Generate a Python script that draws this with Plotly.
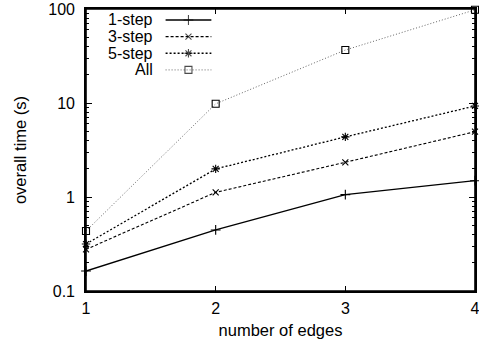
import plotly.graph_objects as go

edges = [1, 2, 3, 4]
series_names = ["1-step", "3-step", "5-step", "All"]
one_step = [0.163, 0.446, 1.06, 1.49]
three_step = [0.277, 1.12, 2.34, 4.95]
five_step = [0.316, 1.99, 4.36, 9.3]
all_steps = [0.435, 9.8, 36.6, 98.0]
series_values = [one_step, three_step, five_step, all_steps]

dashes = ["solid", "3px,2px", "2px,2px", "1px,2px"]
line_colors = ["black", "black", "black", "#666666"]
line_widths = [1.3, 1.1, 1.3, 1.0]
symbols = ["cross-thin-open", "x-thin-open", "asterisk-open", "square-open"]
marker_sizes = [7, 6, 7, 7]

FONT = "Liberation Sans, Arial, Helvetica, sans-serif"
X_RANGE = [1, 4]
Y_LOG_RANGE = [-1, 2]


def paper_to_x(p):
    return X_RANGE[0] + (X_RANGE[1] - X_RANGE[0]) * p


def paper_to_y(p):
    return 10 ** (Y_LOG_RANGE[0] + (Y_LOG_RANGE[1] - Y_LOG_RANGE[0]) * p)


fig = go.Figure()
for name, vals, d, c, w, s, ms in zip(series_names, series_values, dashes,
                                       line_colors, line_widths, symbols, marker_sizes):
    fig.add_trace(go.Scatter(
        x=edges, y=vals, name=name, mode="lines+markers",
        line=dict(color=c, width=w, dash=d),
        marker=dict(symbol=s, size=ms, color="black",
                    line=dict(color="black", width=1.1)),
        showlegend=False, cliponaxis=False,
    ))

# gnuplot-style legend: right-aligned labels with sample to the right
leg_rows = [0.961, 0.902, 0.843, 0.784]
leg_sample_x = [0.2046, 0.2634, 0.3223]
for name, yy, d, c, w, s, ms in zip(series_names, leg_rows, dashes,
                                     line_colors, line_widths, symbols, marker_sizes):
    fig.add_trace(go.Scatter(
        x=[paper_to_x(p) for p in leg_sample_x], y=[paper_to_y(yy)] * 3,
        mode="lines+markers",
        line=dict(color=c, width=w, dash=d),
        marker=dict(symbol=s, size=[0, ms, 0], color="black",
                    line=dict(color="black", width=1.1)),
        showlegend=False, hoverinfo="skip",
    ))
    fig.add_annotation(x=0.1765, y=yy, xref="paper", yref="paper", text=name,
                       showarrow=False, xanchor="right", yanchor="middle",
                       font=dict(size=16, color="black", family=FONT))

# plot frame
fig.add_shape(type="rect", xref="paper", yref="paper", x0=0, y0=0, x1=1, y1=1,
              line=dict(color="black", width=1.6), layer="above")

fig.update_layout(
    width=479, height=346,
    margin=dict(l=86, r=4, t=9, b=55, autoexpand=False),
    paper_bgcolor="white", plot_bgcolor="white",
    font=dict(family=FONT, size=16, color="black"),
    xaxis=dict(
        range=X_RANGE, tickvals=edges, ticktext=[str(e) for e in edges],
        ticks="inside", ticklen=5, tickwidth=1, tickcolor="black",
        showline=True, linecolor="black", linewidth=1.6, mirror="allticks",
        showgrid=False, zeroline=False, automargin=False,
        ticklabelstandoff=2, ticklabeloverflow="allow",
        title=dict(text="number of edges", standoff=8, font=dict(size=16.5)),
    ),
    yaxis=dict(
        type="log", range=Y_LOG_RANGE,
        tickvals=[0.1, 1, 10, 100], ticktext=["0.1", "1", "10", "100"],
        ticks="inside", ticklen=6, tickwidth=1, tickcolor="black",
        minor=dict(ticks="inside", ticklen=3, tickcolor="black", dtick="D1", showgrid=False),
        showline=True, linecolor="black", linewidth=1.6, mirror="allticks",
        showgrid=False, zeroline=False, automargin=False,
        ticklabelstandoff=6, ticklabeloverflow="allow",
        title=dict(text="overall time (s)", standoff=18, font=dict(size=16.5)),
    ),
)

fig.write_html("out.html", config={"displayModeBar": False},
               post_script="document.body.style.margin='0px';")
